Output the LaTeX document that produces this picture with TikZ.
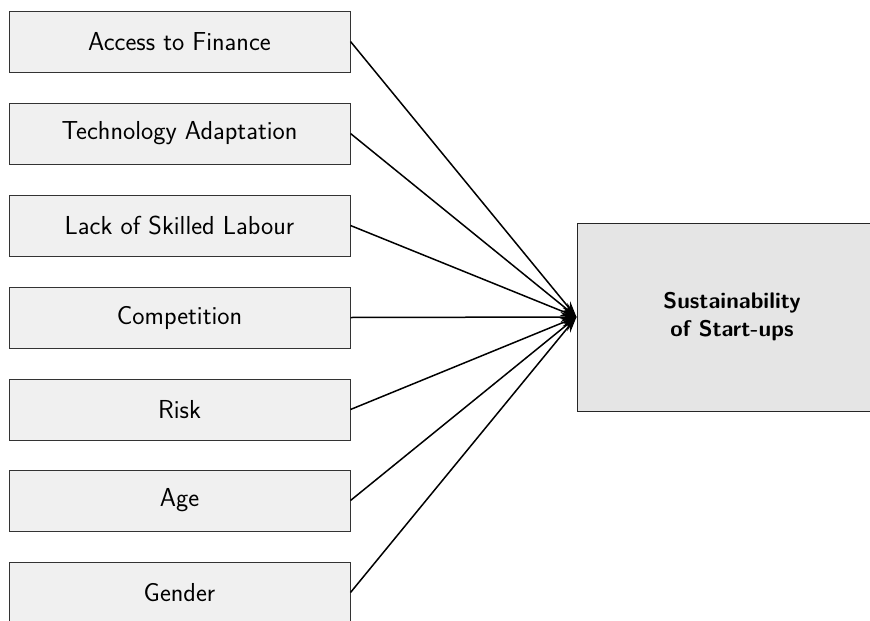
\documentclass[tikz,border=0pt]{standalone}
\usetikzlibrary{arrows.meta}
\begin{document}
\sffamily
\begin{tikzpicture}[x=1pt,y=-1pt,
  factor/.style={draw=black!80, line width=1pt, fill=black!6, minimum width=341pt, minimum height=61pt, inner sep=0pt, font=\fontsize{26}{30}\selectfont},
  outcome/.style={draw=black!85, line width=1pt, fill=black!10, minimum width=310pt, minimum height=188pt, inner sep=0pt, align=center, font=\fontsize{22.6}{28}\selectfont\bfseries},
  link/.style={line width=1.5pt, -{Stealth[length=16pt,width=10pt]}}]
\useasboundingbox (0,0) rectangle (870,621);
\node[factor] (f1) at (179.5,41.5) {Access to Finance};
\node[factor] (f2) at (179.5,133.5) {Technology Adaptation};
\node[factor] (f3) at (179.5,225.5) {Lack of Skilled Labour};
\node[factor] (f4) at (179.5,317.5) {Competition};
\node[factor] (f5) at (179.5,409.5) {Risk};
\node[factor] (f6) at (179.5,500.5) {Age};
\node[factor] (f7) at (179.5,592.5) {Gender};
\node[outcome] (s) at (732,317) {Sustainability\\of Start-ups};
\foreach \i in {1,...,7}
  \draw[link] (f\i.east) -- (s.west);
\end{tikzpicture}
\end{document}
